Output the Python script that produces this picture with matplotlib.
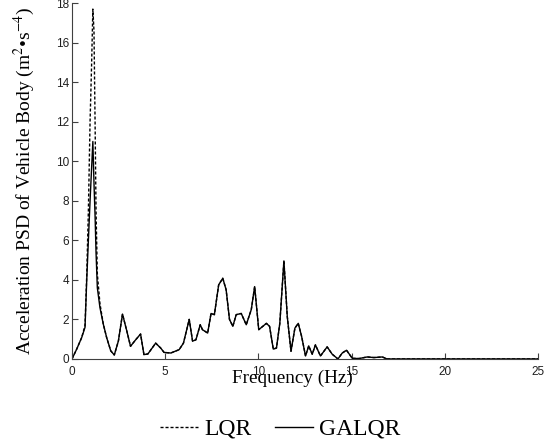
import numpy as np
import matplotlib
matplotlib.use("Agg")
import matplotlib.pyplot as plt

plt.rcParams['mathtext.fontset'] = 'stix'

# frequency points (Hz) and PSD values (m^2 s^-4)
freq = [0, 0.25, 0.52, 0.7, 0.79, 0.88, 0.97, 1.05, 1.12, 1.18, 1.24, 1.29, 1.36,
        1.5, 1.68, 1.86, 2.08, 2.27, 2.49, 2.71, 2.94, 3.14, 3.4, 3.68, 3.86, 4.07,
        4.3, 4.49, 4.76, 4.94, 5.3, 5.75, 5.98, 6.29, 6.47, 6.65, 6.88, 7.0, 7.28,
        7.46, 7.64, 7.87, 8.09, 8.27, 8.45, 8.63, 8.81, 9.08, 9.35, 9.62, 9.8, 10.02,
        10.43, 10.6, 10.8, 10.97, 11.15, 11.37, 11.55, 11.75, 11.96, 12.14, 12.32,
        12.53, 12.7, 12.89, 13.06, 13.33, 13.69, 13.96, 14.27, 14.5, 14.73, 15.04,
        15.4, 15.84, 16.2, 16.65, 16.9, 18, 20, 22, 25]

galqr = [0, 0.49, 1.08, 1.6, 3.96, 6.0, 8.0, 9.6, 11.0, 8.9, 7.2, 5.4, 3.6,
         2.6, 1.76, 1.08, 0.41, 0.2, 0.91, 2.27, 1.42, 0.64, 0.95, 1.26, 0.22, 0.25,
         0.55, 0.8, 0.55, 0.33, 0.3, 0.47, 0.8, 2.0, 0.9, 0.97, 1.73, 1.48, 1.31,
         2.3, 2.24, 3.75, 4.08, 3.5, 2.0, 1.65, 2.24, 2.3, 1.73, 2.5, 3.66, 1.48,
         1.8, 1.65, 0.5, 0.55, 1.8, 4.96, 2.15, 0.39, 1.56, 1.8, 1.14,
         0.15, 0.66, 0.24, 0.71, 0.15, 0.61, 0.24, 0.0, 0.3, 0.44, 0.03,
         0.02, 0.1, 0.07, 0.1, 0.0, 0.0, 0.0, 0.0, 0.0]

# LQR only differs from GALQR around the body resonance
lqr = list(galqr)
lqr[3:14] = [1.7, 4.2, 7.5, 12.0, 14.8, 17.7, 16.6, 11.9, 7.5, 4.3, 2.8]

fig = plt.figure(figsize=(5.55, 4.47), dpi=100)
ax = fig.add_axes([0.1297, 0.197, 0.8396, 0.796])

ax.plot(freq, lqr, color='black', lw=1.0, linestyle=(0, (2.2, 1.4)), label='LQR')
ax.plot(freq, galqr, color='black', lw=1.0, label='GALQR')

ax.set_xlim(0, 25)
ax.set_ylim(0, 18)
ax.set_xticks([0, 5, 10, 15, 20, 25])
ax.set_yticks(np.arange(0, 19, 2))
ax.spines['top'].set_visible(False)
ax.spines['right'].set_visible(False)
for s in ['left', 'bottom']:
    ax.spines[s].set_color('#404040')
ax.tick_params(direction='in', length=4, color='#404040', labelsize=8.5,
               labelcolor='#202020')
ax.tick_params(axis='x', pad=5)
ax.tick_params(axis='y', pad=2)
for lbl in ax.get_xticklabels() + ax.get_yticklabels():
    lbl.set_family('Liberation Sans')

ax.set_xlabel('Frequency (Hz)', family='Liberation Serif', fontsize=13.8)
ax.xaxis.set_label_coords(0.472, -0.03)
ax.set_ylabel('Acceleration PSD of Vehicle Body (m$^{2}$•s$^{-4}$)',
              family='Liberation Serif', fontsize=14, labelpad=14)

fig.legend(loc='center', bbox_to_anchor=(0.505, 0.04), ncol=2, frameon=False,
           prop={'family': 'Liberation Serif', 'size': 17}, handlelength=1.6,
           handletextpad=0.25, columnspacing=1.0)

fig.savefig('out.png', dpi=100)
